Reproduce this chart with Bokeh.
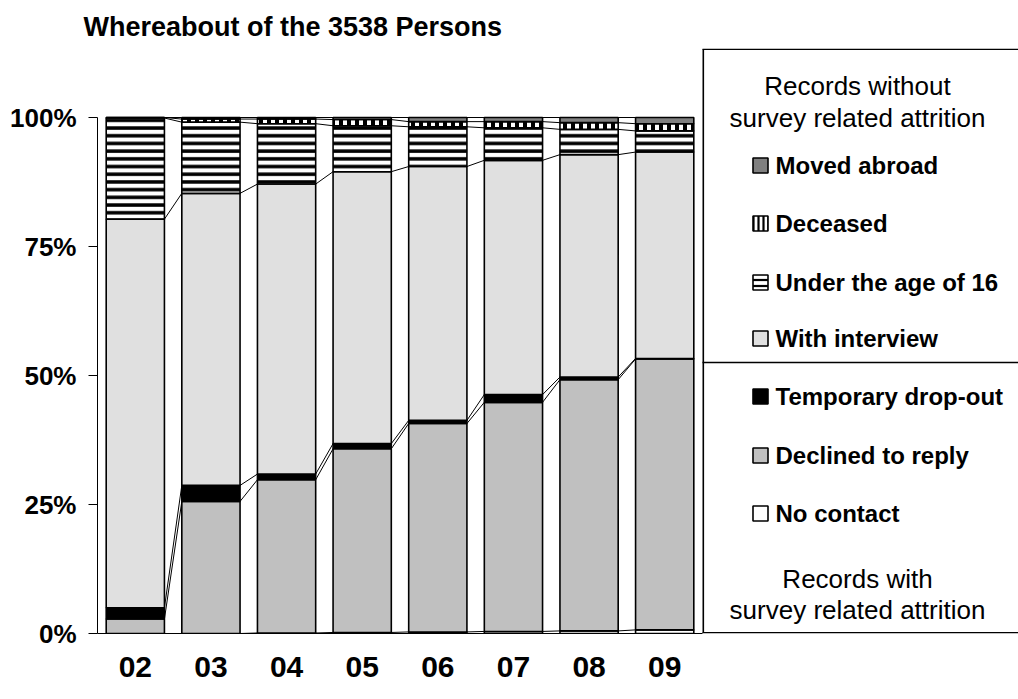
import numpy as np
from bokeh.plotting import figure
from bokeh.models import Range1d, FixedTicker, ColumnDataSource, Title
from bokeh.transform import stack
from bokeh.core.properties import value
from bokeh.embed import file_html
from bokeh.resources import INLINE

# ---------------- data (percent of the 3538 persons) ----------------
years = ["02", "03", "04", "05", "06", "07", "08", "09"]
no_contact = [0.0, 0.0, 0.1, 0.2, 0.3, 0.4, 0.5, 0.7]
declined   = [2.8, 25.6, 29.7, 35.6, 40.4, 44.4, 48.7, 52.5]
dropout    = [2.2, 3.1, 1.1, 1.0, 0.6, 1.5, 0.5, 0.1]
interview  = [75.3, 56.6, 56.2, 52.7, 49.2, 45.4, 43.1, 40.0]
under16    = [19.6, 13.8, 11.7, 8.9, 7.7, 6.3, 4.9, 4.1]
deceased   = [0.1, 0.6, 0.9, 1.2, 1.0, 1.2, 1.3, 1.4]
moved      = [0.0, 0.3, 0.3, 0.4, 0.8, 0.8, 1.0, 1.2]

y_ticks = [0, 25, 50, 75, 100]
y_tick_labels = ["0%", "25%", "50%", "75%", "100%"]

title_text = "Whereabout of the 3538 Persons"
legend_labels = ["Moved abroad", "Deceased", "Under the age of 16", "With interview",
                 "Temporary drop-out", "Declined to reply", "No contact"]
header_top = ["Records without", "survey related attrition"]
header_bottom = ["Records with", "survey related attrition"]

FONT = "Liberation Sans"

# ---------------- styles ----------------
keys = ["nc", "dec", "drop", "intv", "u16", "dead", "moved"]
styles = {
    "nc":    dict(fill_color="white"),
    "dec":   dict(fill_color="#c0c0c0"),
    "drop":  dict(fill_color="black"),
    "intv":  dict(fill_color="#e0e0e0"),
    "u16":   dict(fill_color="white", hatch_pattern="horizontal_line", hatch_color="black",
                  hatch_scale=7.7, hatch_weight=3.5),
    "dead":  dict(fill_color="white", hatch_pattern="vertical_line", hatch_color="black",
                  hatch_scale=8, hatch_weight=4),
    "moved": dict(fill_color="#808080"),
}

# ---------------- layout geometry (pixels) ----------------
W, H = 1018, 699
FL, FT, FB = 97, 48, 633          # frame left / top / bottom
CHART_R = 702                      # right end of the bar area
Y100 = 117                         # pixel row of 100 %
n = len(years)
px_per_x = (CHART_R - FL) / n
px_per_y = (FB - Y100) / 100.0

xpos = np.arange(n) + 0.5
src = ColumnDataSource(dict(x=xpos, nc=no_contact, dec=declined, drop=dropout,
                            intv=interview, u16=under16, dead=deceased, moved=moved))

p = figure(width=W, height=H,
           x_range=Range1d(0, (W - FL) / px_per_x),
           y_range=Range1d(0, (FB - FT) / px_per_y),
           output_backend="svg", toolbar_location=None,
           min_border_left=FL, min_border_right=0, min_border_top=FT, min_border_bottom=H - FB)
p.outline_line_color = None
p.grid.visible = False

# pixel-space ranges for the legend panel
p.extra_x_ranges = {"px": Range1d(FL, W)}
p.extra_y_ranges = {"px": Range1d(FB, FT)}

BAR_W = 0.77
for i, k in enumerate(keys):
    bottom = stack(*keys[:i]) if i > 0 else 0
    p.vbar(x="x", width=BAR_W, bottom=bottom, top=stack(*keys[:i + 1]), source=src,
           line_color="black", line_width=1.6, **styles[k])

# series lines between bars
vals = np.array([no_contact, declined, dropout, interview, under16, deceased, moved])
cum = np.cumsum(vals, axis=0)
x0, x1, y0, y1 = [], [], [], []
for s in range(cum.shape[0]):
    for j in range(n - 1):
        x0.append(xpos[j] + BAR_W / 2); x1.append(xpos[j + 1] - BAR_W / 2)
        y0.append(float(cum[s, j])); y1.append(float(cum[s, j + 1]))
p.segment(x0=x0, y0=y0, x1=x1, y1=y1, line_color="black", line_width=1)

# axes
p.yaxis.bounds = (0, 100)
p.yaxis.ticker = FixedTicker(ticks=y_ticks)
p.yaxis.major_label_overrides = {t: l for t, l in zip(y_ticks, y_tick_labels)}
p.yaxis.minor_tick_line_color = None
p.yaxis.major_tick_in = 0
p.yaxis.major_tick_out = 9
p.yaxis.major_tick_line_color = "black"
p.yaxis.axis_line_color = "black"
p.yaxis.major_label_standoff = 12
p.yaxis.major_label_text_font = FONT
p.yaxis.major_label_text_font_style = "bold"
p.yaxis.major_label_text_font_size = "26px"
p.yaxis.major_label_text_color = "black"

p.xaxis.bounds = (0, n)
p.xaxis.ticker = FixedTicker(ticks=list(xpos))
p.xaxis.major_label_overrides = {float(v): y for v, y in zip(xpos, years)}
p.xaxis.major_tick_line_color = None
p.xaxis.minor_tick_line_color = None
p.xaxis.axis_line_color = "black"
p.xaxis.major_label_standoff = 17
p.xaxis.major_label_text_font = FONT
p.xaxis.major_label_text_font_style = "bold"
p.xaxis.major_label_text_font_size = "30px"
p.xaxis.major_label_text_color = "black"

# title
p.title = Title(text=title_text, text_font=FONT, text_font_style="bold",
                text_font_size="27px", align="left", offset=-14, standoff=13,
                text_color="black")

# ---------------- legend panel (pixel coordinates) ----------------
R = dict(x_range_name="px", y_range_name="px")
p.segment(x0=[702.8, 702, 702, 702], y0=[48.8, 48.8, 632.2, 362],
          x1=[702.8, W, W, W], y1=[632.2, 48.8, 632.2, 362],
          line_color="black", line_width=1.6, **R)

item_keys = ["moved", "dead", "u16", "intv", "drop", "dec", "nc"]
item_centers = [165, 223, 282, 338, 396, 455, 513]
icon_styles = dict(styles)
icon_styles["u16"] = dict(fill_color="white", hatch_pattern="horizontal_line", hatch_color="black",
                          hatch_scale=6, hatch_weight=2.2)
icon_styles["dead"] = dict(fill_color="white", hatch_pattern="vertical_line", hatch_color="black",
                           hatch_scale=5, hatch_weight=2.2)
for k, c in zip(item_keys, item_centers):
    p.rect(x=[760], y=[c], width=15, height=15, line_color="black", line_width=1.6,
           **icon_styles[k], **R)
p.text(x=[775] * len(legend_labels), y=item_centers, text=legend_labels,
       text_font=value(FONT), text_font_style="bold", text_font_size="24px",
       text_baseline="middle", text_align="left", text_color="black", **R)

p.text(x=[857, 857], y=[85, 117], text=header_top, text_font=value(FONT),
       text_font_size="26px", text_baseline="middle", text_align="center",
       text_color="black", **R)
p.text(x=[857, 857], y=[578, 609], text=header_bottom, text_font=value(FONT),
       text_font_size="26px", text_baseline="middle", text_align="center",
       text_color="black", **R)

open("out.html", "w").write(file_html(p, INLINE))
